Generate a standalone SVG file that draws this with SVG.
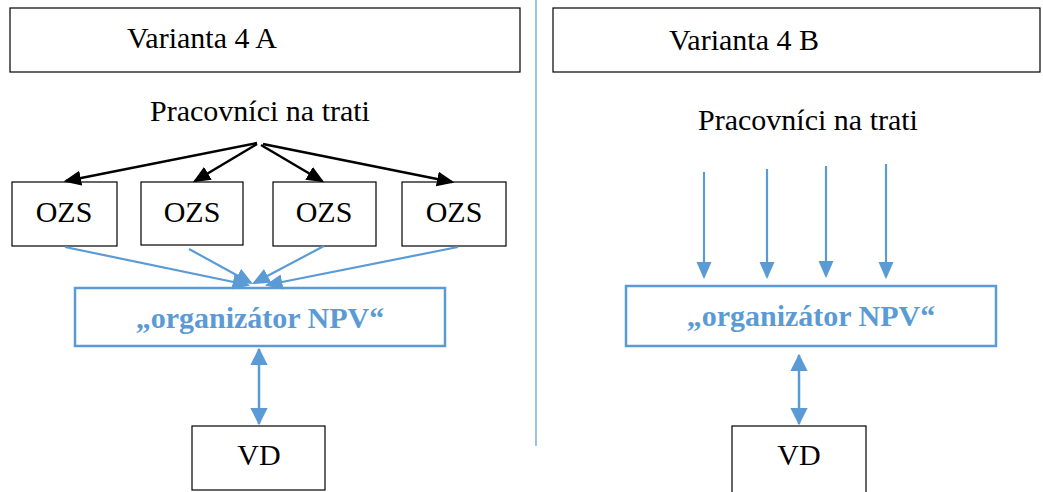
<svg xmlns="http://www.w3.org/2000/svg" width="1043" height="492" viewBox="0 0 1043 492" font-family="Liberation Serif, DejaVu Serif, serif">
<style>
text{font-size:30px;text-anchor:middle}
.t{fill:#000}
.b{font-weight:bold;fill:#5B9BD5}
.bx{fill:#fff;stroke:#000;stroke-width:1.2}
.ob{fill:#fff;stroke:#5B9BD5;stroke-width:2.5}
.ka{stroke:#000;stroke-width:2.5;fill:none;marker-end:url(#ah)}
.ba{stroke:#5B9BD5;stroke-width:2.2;fill:none;marker-end:url(#bh)}
.bb{stroke:#5B9BD5;stroke-width:2.5;fill:none;marker-end:url(#bh2);marker-start:url(#bs2)}
</style>
<defs>
<marker id="ah" markerWidth="7" markerHeight="6" refX="6" refY="3" orient="auto" markerUnits="strokeWidth"><path d="M0,0 L7,3 L0,6 Z" fill="#000"/></marker>
<marker id="bh" markerWidth="8" markerHeight="7" refX="7" refY="3.5" orient="auto" markerUnits="strokeWidth"><path d="M0,0 L8,3.5 L0,7 Z" fill="#5B9BD5"/></marker>
<marker id="bh2" markerWidth="7" markerHeight="7" refX="6.5" refY="3.5" orient="auto" markerUnits="strokeWidth"><path d="M0,0 L7,3.5 L0,7 Z" fill="#5B9BD5"/></marker>
<marker id="bs2" markerWidth="7" markerHeight="7" refX="0.5" refY="3.5" orient="auto" markerUnits="strokeWidth"><path d="M7,0 L0,3.5 L7,7 Z" fill="#5B9BD5"/></marker>
</defs>
<rect width="1043" height="492" fill="#fff"/>
<line x1="536" y1="0" x2="536" y2="446" stroke="#5B9BD5" stroke-width="1.2"/>

<g id="titleA"><rect class="bx" x="10" y="8" width="510" height="64"/><text class="t" x="202" y="48" font-family="Liberation Serif">Varianta 4 A</text></g>
<g id="titleB"><rect class="bx" x="553" y="8" width="487" height="64"/><text class="t" x="744" y="50">Varianta 4 B</text></g>

<g id="pracA"><text class="t" x="260" y="121">Pracovníci na trati</text></g>
<g id="pracB"><text class="t" x="808" y="130">Pracovníci na trati</text></g>

<g id="ozs1"><rect class="bx" x="12" y="182" width="105" height="64"/><text class="t" x="64" y="222">OZS</text></g>
<g id="ozs2"><rect class="bx" x="141" y="182" width="102" height="63"/><text class="t" x="192" y="222">OZS</text></g>
<g id="ozs3"><rect class="bx" x="273" y="182" width="103" height="64"/><text class="t" x="324" y="222">OZS</text></g>
<g id="ozs4"><rect class="bx" x="402" y="182" width="104" height="64"/><text class="t" x="454" y="222">OZS</text></g>

<g id="orgA"><rect class="ob" x="75" y="288" width="370" height="58"/><text class="b" x="260" y="328">„organizátor NPV“</text></g>
<g id="orgB"><rect class="ob" x="626" y="286" width="370" height="60"/><text class="b" x="811" y="326">„organizátor NPV“</text></g>

<g id="vdA"><rect class="bx" x="192" y="426" width="133" height="64"/><text class="t" x="259" y="465">VD</text></g>
<g id="vdB"><rect class="bx" x="732" y="426" width="134" height="70"/><text class="t" x="799" y="465">VD</text></g>

<g id="connectors">
<line class="ka" x1="257" y1="143" x2="66" y2="181"/>
<line class="ka" x1="257" y1="144" x2="195" y2="181"/>
<line class="ka" x1="261" y1="145" x2="322" y2="181"/>
<line class="ka" x1="263" y1="144" x2="452" y2="182"/>

<line class="ba" x1="65" y1="247" x2="248" y2="285"/>
<line class="ba" x1="189" y1="249" x2="251" y2="283"/>
<line class="ba" x1="324" y1="246" x2="254" y2="283"/>
<line class="ba" x1="458" y1="247" x2="267" y2="285"/>

<line class="bb" x1="259" y1="349" x2="259" y2="424"/>
<line class="bb" x1="799" y1="355" x2="799" y2="424"/>

<line class="ba" x1="704" y1="172" x2="704" y2="277"/>
<line class="ba" x1="767" y1="169" x2="767" y2="277"/>
<line class="ba" x1="826" y1="166" x2="826" y2="276"/>
<line class="ba" x1="886" y1="164" x2="886" y2="277"/>
</g>
</svg>
